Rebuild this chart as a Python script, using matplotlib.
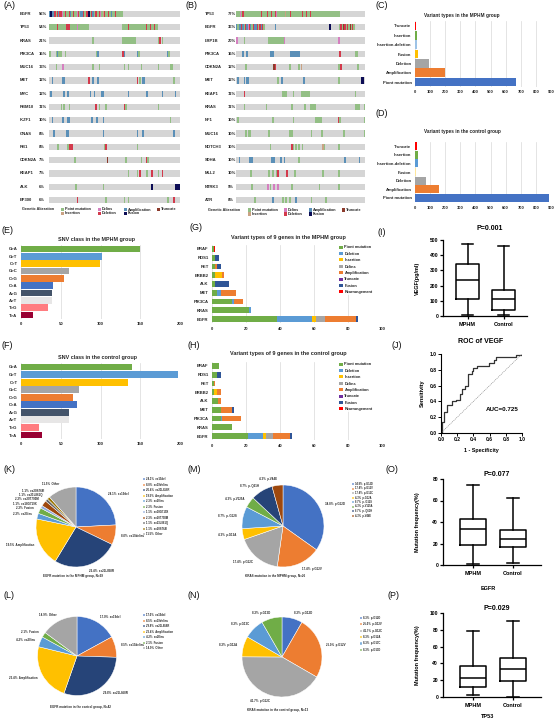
import matplotlib
matplotlib.use('Agg')
import matplotlib.pyplot as plt
from matplotlib.patches import Patch, Rectangle
from matplotlib.transforms import blended_transform_factory
import numpy as np

plt.rcParams['font.family'] = ['Liberation Sans', 'DejaVu Sans']
plt.rcParams['axes.linewidth'] = 0.8

W, H = 558, 722
fig = plt.figure(figsize=(W / 100, H / 100), dpi=100)
fig.patch.set_facecolor('white')


def ax_px(x0, y0, x1, y1):
    return fig.add_axes([x0 / W, 1 - y1 / H, (x1 - x0) / W, (y1 - y0) / H])


def ftext(x, y, s, **kw):
    return fig.text(x / W, 1 - y / H, s, **kw)


# ======================= DATA =======================
# --- oncoprints (A, B): "col-range + type" per gene, 100 sample columns
ALT_CODES = ['P', 'L', 'A', 'T', 'I', 'D', 'F']
ALT_NAMES = ['Point mutation', 'Delins', 'Amplification', 'Truncate', 'Insertion', 'Deletion', 'Fusion']
ALT_COLORS = {'P': '#93bf85', 'L': '#d57fc0', 'A': '#5a8fb7', 'T': '#8c3b2c',
              'I': '#c9a283', 'D': '#d33a4c', 'F': '#0c0c55'}
NCOL = 100

A_GENES = ['EGFR', 'TP53', 'KRAS', 'PIK3CA', 'MUC16', 'MET', 'MYC', 'RBM10', 'IKZF1',
           'GNAS', 'RB1', 'CDKN2A', 'KEAP1', 'ALK', 'EP300']
A_PCT = [56, 54, 21, 16, 13, 12, 12, 11, 10, 8, 8, 7, 7, 6, 6]
A_ALTS = [
    "0A 1F 2-3A 4D 5P 6D 7A 8-9D 10L 11P 12D 13-14P 15D 16A 17P 18D 19-20P 21L 22D 23P "
    "24-25A 26D 27P 28-29D 30F 31P 32D 33A 34P 35-36D 37P 38D 39L 40P 41I 42D 43-44P 45D "
    "46P 47A 48-49P 50D 51-55P",
    "0-29P 6D 13-15D 21L 56-82P 60D 74D 77D 80D",
    "33P 56-65P 83P 84D 86P",
    "0P 5-9P 6A 12P 36P 37A 56D 57A 67A 68P 90A 91P",
    "5P 10L 33P 38P 57P 60P 70P 83P 92-93P",
    "2A 10-11A 30D 33A 37A 67D 69P 71-72A 95P",
    "1A 11A 14A 31A 34A 40-41A 60A 74A 86A 96A",
    "9P 11P 15P 35D 38P 43P 57D 58P 83P",
    "2A 10A 14-15A 32A 36A 41A 92P",
    "3A 13-14A 41A 67A 71A 95A",
    "6P 14P 15-17D 42P 43D 67P",
    "19P 44T 58P 70P 74D 75P",
    "60P 67P 69D 74P 78D 83P 86D",
    "20P 41P 78F 96-99F",
    "21D 43P 57P 60P 90P 95D",
]

B_GENES = ['TP53', 'EGFR', 'LRP1B', 'PIK3CA', 'CDKN2A', 'MET', 'KEAP1', 'KRAS', 'NF1',
           'MUC16', 'NOTCH3', 'SDHA', 'MLL2', 'NTRK3', 'ATR']
B_PCT = [77, 36, 20, 16, 12, 12, 11, 11, 10, 10, 10, 10, 10, 9, 8]
B_ALTS = [
    "0-79P 3L 5D 19D 24D 27D 30D 31L 38I 42D 51D 54D 57D",
    "0A 1P 2-3A 4D 5A 6P 7D 8A 9L 10D 11A 12P 13D 14-15A 16D 17P 18D 19A 20D 21P 30A 72F "
    "80P 81D 82P 83T 84D 85P 86D 87P 88T 89P 90D 91P",
    "0L 6P 25-37P 37L 79L",
    "5A 8A 26-28A 42-48A 80D 92-93P",
    "7P 29T 30D 41P 48P 50I 79P 81D 94P",
    "1A 6A 8-9A 32P 35A 52A 79P 97-98F",
    "6D 36-38P 44P 50-56P 92P",
    "6P 23P 43P 53P 57-61P 92-95P 99P",
    "1P 28P 44P 61-65P 79D 80P 99P",
    "7P 9-10P 25P 41P 43P 58P 66P 83P 99P",
    "26P 43D 44P 46P 48P 51P 67I 68P 79P",
    "2A 10-12A 27A 29A 34A 37A 48P 84A 95A",
    "11P 25P 28P 31P 32D 39D 45P 67P 79P",
    "12P 24L 26P 29L 32L 43P 64P 79P",
    "14P 28A 36P 38P 41P 46A 58P 69P",
]

# --- C / D variant types
VT_TYPES = ['Truncate', 'Insertion', 'Insertion-deletion', 'Fusion', 'Deletion',
            'Amplification', 'Piont mutation']
C_VALUES = [5, 12, 12, 20, 90, 200, 670]
C_COLORS = ['#FF0000', '#70AD47', '#9DC3E6', '#FFC000', '#A5A5A5', '#ED7D31', '#4472C4']
D_VALUES = [12, 18, 20, 5, 70, 160, 890]
D_COLORS = ['#FF0000', '#70AD47', '#5B9BD5', '#FFE699', '#A5A5A5', '#ED7D31', '#4472C4']

# --- E / F SNV classes
SNV_CLASSES = ['G>A', 'G>T', 'C>T', 'G>C', 'C>G', 'C>A', 'A>G', 'A>T', 'T>G', 'T>A']
E_VALUES = [150, 102, 99, 61, 54, 40, 39, 39, 34, 15]
F_VALUES = [139, 198, 134, 73, 66, 70, 61, 61, 23, 26]
SNV_COLORS = ['#70AD47', '#5B9BD5', '#FFC000', '#A5A5A5', '#ED7D31', '#4472C4',
              '#44546A', '#E7E6E6', '#FF7C80', '#990033']

# --- G / H variant types of 9 genes (stacked)
G9_GENES = ['BRAF', 'ROS1', 'RET', 'ERBB2', 'ALK', 'MET', 'PIK3CA', 'KRAS', 'EGFR']
G9_TYPES = ['Piont mutation', 'Deletion', 'Insertion', 'Delins', 'Amplification',
            'Truncate', 'Fusion', 'Rearrangement']
G9_COLORS = ['#70AD47', '#5B9BD5', '#FFC000', '#A5A5A5', '#ED7D31', '#7030A0',
             '#2F5597', '#FF0000']
G_POINT = [1, 2, 2, 2, 2, 3, 12, 22, 38]
G_DELETION = [0, 0, 0, 0, 0, 2, 1, 1, 21]
G_INSERTION = [0, 0, 0, 4, 0, 0, 0, 0, 2]
G_DELINS = [0, 0, 0, 0, 0, 0, 0, 0, 5.5]
G_AMP = [0, 0, 1, 1, 0, 9, 5, 0, 18]
G_TRUNC = [0, 0, 0, 0, 0, 0, 0, 0, 0]
G_FUSION = [0, 2, 2, 0, 8, 0, 0, 0, 1.5]
G_REARR = [1, 0, 0, 0, 0, 0, 0, 0, 0]
H_POINT = [4, 3, 1, 1, 3.5, 5, 5, 12, 21]
H_DELETION = [0, 0, 0, 0, 0, 0, 1, 0, 9]
H_INSERTION = [0, 0, 0, 2, 0, 0, 0, 0, 2]
H_DELINS = [0, 0, 0, 0, 0, 0, 0, 0, 4]
H_AMP = [0, 0, 1, 2, 1.5, 7, 11, 0, 10]
H_TRUNC = [0, 0, 0, 0, 0, 0, 0, 0, 0]
H_FUSION = [0, 2, 0, 0, 0, 1, 0, 0, 1]
H_REARR = [0, 0, 0, 0, 0, 0, 0, 0, 0]

# --- box plots: [whislo, q1, median, q3, whishi]
BOX_GROUPS = ['MPHM', 'Control']
VEGF_MPHM = [9, 114, 236, 341, 471]
VEGF_CONTROL = [9, 37, 114, 174, 460]
EGFR_MPHM = [0.6, 19, 33.5, 42.5, 74]
EGFR_CONTROL = [1.5, 17, 24, 32.5, 62.5]
TP53_MPHM = [2, 12, 22.5, 37, 79]
TP53_CONTROL = [0.3, 18.7, 33.3, 46.4, 91]

# --- ROC of VEGF
ROC_FPR = [0.0, 0.01, 0.04, 0.08, 0.14, 0.19, 0.23, 0.26, 0.30, 0.33, 0.38, 0.40, 0.44,
           0.59, 0.66, 0.68, 0.92, 1.0]
ROC_TPR = [0.0, 0.14, 0.27, 0.35, 0.40, 0.42, 0.49, 0.56, 0.60, 0.75, 0.78, 0.82, 0.85,
           0.89, 0.93, 0.96, 0.99, 1.0]
ROC_AUC = 0.725

# --- pies
K_LABELS = ['ex19del', 'ex19delins', 'ex21L858R', 'Amplification', 'ex20ins', 'Fusion',
            'ex18G719X', 'ex20T790M', 'ex21L861Q', 'ex20S768I', 'Other']
K_PCTS = [24.1, 8.0, 26.4, 19.5, 2.3, 2.3, 1.1, 2.3, 1.1, 1.1, 11.5]
K_COLORS = ['#4472C4', '#ED7D31', '#264478', '#FFC000', '#5B9BD5', '#70AD47',
            '#8FAADC', '#9E480E', '#636363', '#997300', '#A5A5A5']
L_LABELS = ['ex19del', 'ex19delins', 'ex21L858R', 'Amplification', 'ex20ins', 'Fusion', 'Other']
L_PCTS = [17.0, 8.5, 29.8, 23.4, 4.2, 2.1, 14.9]
L_COLORS = ['#4472C4', '#ED7D31', '#264478', '#FFC000', '#5B9BD5', '#70AD47', '#A5A5A5']
M_LABELS = ['p.G12D', 'p.G12V', 'p.G12C', 'p.G12A', 'p. G12S', 'p.V125A', 'p. Q61H', 'p.V44E']
M_PCTS = [34.8, 17.4, 17.4, 4.3, 8.7, 4.3, 8.7, 4.3]
M_COLORS = ['#4472C4', '#ED7D31', '#A5A5A5', '#FFC000', '#5B9BD5', '#70AD47', '#264478', '#9E480E']
N_LABELS = ['p.G12D', 'p.G12V', 'p.G12C', 'p.G12A', 'p.G13C', 'p.G13D']
N_PCTS = [8.3, 25.0, 41.7, 8.3, 8.3, 8.3]
N_COLORS = ['#4472C4', '#ED7D31', '#A5A5A5', '#FFC000', '#5B9BD5', '#70AD47']

TXT = '#262626'


# ======================= HELPERS =======================
def parse_alts(spec):
    cells = {}
    for tok in spec.split():
        rng, t = tok[:-1], tok[-1]
        if '-' in rng:
            a, b = map(int, rng.split('-'))
        else:
            a = b = int(rng)
        for c in range(a, b + 1):
            cells[c] = t
    return cells


def oncoprint(x0, x1, ytop, ybot, genes, pcts, alts, name_x, pct_x, leg):
    n = len(genes)
    step = (ybot - ytop) / (n - 1)
    ax = ax_px(x0, ytop - step / 2, x1, ybot + step / 2)
    ax.set_xlim(0, NCOL)
    ax.set_ylim(n - 0.5, -0.5)
    ax.axis('off')
    rows = np.arange(n)
    hh = 0.47
    ax.barh(rows, NCOL, left=0, height=hh, color='#d5d5d5', linewidth=0)
    for i, spec in enumerate(alts):
        cells = parse_alts(spec)
        cols = sorted(cells)
        ax.barh([i] * len(cols), 1.3, left=cols, height=hh,
                color=[ALT_COLORS[cells[c]] for c in cols], linewidth=0)
    tr = blended_transform_factory(fig.transFigure, ax.transData)
    for i, (g, p) in enumerate(zip(genes, pcts)):
        ax.text(name_x / W, i, g, transform=tr, fontsize=3, fontweight='bold',
                ha='left', va='center', color=TXT)
        ax.text(pct_x / W, i, f'{p}%', transform=tr, fontsize=3, fontweight='bold',
                ha='left', va='center', color=TXT)
    # legend
    lx, ly1, ly2, bx = leg
    ftext(lx, ly1, 'Genetic Alteration', fontsize=2.7, fontweight='bold', ha='left',
          va='center', color=TXT)
    pos = {'P': (bx[0], ly1), 'L': (bx[1], ly1), 'A': (bx[2], ly1), 'T': (bx[3], ly1),
           'I': (bx[0], ly2), 'D': (bx[1], ly2), 'F': (bx[2], ly2)}
    for code, name in zip(ALT_CODES, ALT_NAMES):
        px, py = pos[code]
        fig.patches.append(Rectangle((px / W, 1 - (py + 1.6) / H), 3.2 / W, 3.2 / H,
                                     transform=fig.transFigure, color=ALT_COLORS[code],
                                     linewidth=0))
        ftext(px + 4.2, py, name, fontsize=2.7, fontweight='bold', ha='left', va='center',
              color=TXT)
    return ax


def excel_style(ax, xmax, xstep, fs=3):
    ax.set_xlim(0, xmax)
    ax.set_xticks(np.arange(0, xmax + 0.1, xstep))
    for s in ax.spines.values():
        s.set_visible(False)
    ax.grid(axis='x', color='#d9d9d9', lw=0.5, zorder=0)
    ax.set_axisbelow(True)
    ax.tick_params(length=0, labelsize=fs, pad=2.5, colors=TXT)
    for lab in ax.get_xticklabels() + ax.get_yticklabels():
        lab.set_fontweight('bold')


def simple_barh(box, cats, vals, colors, xmax, xstep, height, title, title_xy, fs=3, tfs=3.4):
    ax = ax_px(*box)
    y = np.arange(len(cats))
    ax.barh(y, vals, color=colors, height=height, zorder=2)
    ax.set_ylim(len(cats) - 0.5, -0.5)
    ax.set_yticks(y)
    ax.set_yticklabels(cats)
    excel_style(ax, xmax, xstep, fs)
    ftext(title_xy[0], title_xy[1], title, fontsize=tfs, fontweight='bold', ha='center',
          va='center', color=TXT)
    return ax


def stacked_barh(box, genes, series, colors, names, title, title_xy, leg_xy):
    ax = ax_px(*box)
    y = np.arange(len(genes))
    left = np.zeros(len(genes))
    handles = []
    for vals, c, nm in zip(series, colors, names):
        vals = np.asarray(vals, dtype=float)
        ax.barh(y, vals, left=left, color=c, height=0.68, zorder=2)
        left += vals
        handles.append(Patch(facecolor=c, edgecolor='none', label=nm))
    ax.set_ylim(len(genes) - 0.5, -0.5)
    ax.set_yticks(y)
    ax.set_yticklabels(genes)
    excel_style(ax, 100, 20)
    ftext(title_xy[0], title_xy[1], title, fontsize=4, fontweight='bold', ha='center',
          va='center', color=TXT)
    leg = fig.legend(handles=handles, loc='upper left',
                     bbox_to_anchor=(leg_xy[0] / W, 1 - leg_xy[1] / H),
                     fontsize=2.8, frameon=True, facecolor='white', edgecolor='none',
                     handlelength=0.8, handleheight=0.8, handletextpad=0.5,
                     labelspacing=0.62, borderpad=0.1, borderaxespad=0)
    for t in leg.get_texts():
        t.set_fontweight('bold')
        t.set_color(TXT)
    return ax


def box_panel(box, groups, stats, ylim, yticks, xlim, title, title_y, ylabel, ylabel_x,
              below=None):
    ax = ax_px(*box)
    bstats = [dict(whislo=s[0], q1=s[1], med=s[2], q3=s[3], whishi=s[4], label=g)
              for g, s in zip(groups, stats)]
    kw = dict(color='black', linewidth=1.1)
    ax.bxp(bstats, positions=[1, 2], widths=0.66, showfliers=False, capwidths=0.3,
           boxprops=kw, whiskerprops=kw, capprops=kw, medianprops=kw)
    ax.set_ylim(*ylim)
    ax.set_xlim(*xlim)
    ax.set_yticks(yticks)
    ax.spines['top'].set_visible(False)
    ax.spines['right'].set_visible(False)
    ax.spines['left'].set_linewidth(0.9)
    ax.spines['bottom'].set_linewidth(0.9)
    ax.tick_params(axis='y', length=2.5, width=0.9, labelsize=3.6, pad=1)
    ax.tick_params(axis='x', length=2.5, width=0.9, labelsize=4, pad=1.5)
    for lab in ax.get_xticklabels() + ax.get_yticklabels():
        lab.set_fontweight('bold')
    cx = (box[0] + box[2]) / 2 + 8
    ftext(cx - 3, title_y, title, fontsize=5, fontweight='bold', ha='center', va='center')
    ftext(ylabel_x, (box[1] + box[3]) / 2, ylabel, fontsize=4, fontweight='bold',
          rotation=90, ha='center', va='center')
    if below:
        ftext(below[0], below[1], below[2], fontsize=4, fontweight='bold', ha='center',
              va='center')
    return ax


def spread(texts, gap):
    for side in (1, -1):
        tt = [t for t in texts if np.sign(t.get_position()[0]) == side]
        tt.sort(key=lambda t: t.get_position()[1])
        for a, b in zip(tt[:-1], tt[1:]):
            ya = a.get_position()[1]
            xb, yb = b.get_position()
            if yb - ya < gap:
                b.set_position((xb, ya + gap))


def pie_panel(cx, cy, r, labels, pcts, colors, title, title_xy, leg_xy, leg_fs,
              leg_space, lab_dist=1.15):
    ax = ax_px(cx - r, cy - r, cx + r, cy + r)
    full = [f'{p:.1f}%  {l}' for p, l in zip(pcts, labels)]
    wedges, texts = ax.pie(pcts, colors=colors, startangle=90, counterclock=False,
                           labels=full, labeldistance=lab_dist,
                           wedgeprops=dict(edgecolor='white', linewidth=0.35),
                           textprops=dict(fontsize=2.1, fontweight='bold', color=TXT))
    spread(texts, 0.11)
    ax.set_xlim(-1.0, 1.0)
    ax.set_ylim(-1.0, 1.0)
    ftext(title_xy[0], title_xy[1], title, fontsize=2.2, fontweight='bold', ha='center',
          va='center', color=TXT)
    leg = ax.legend(wedges, full, loc='upper left',
                    bbox_to_anchor=(leg_xy[0] / W, 1 - leg_xy[1] / H),
                    bbox_transform=fig.transFigure, fontsize=leg_fs, frameon=False,
                    handlelength=0.8, handleheight=0.8, handletextpad=0.4,
                    labelspacing=leg_space, borderpad=0, borderaxespad=0)
    for t in leg.get_texts():
        t.set_fontweight('bold')
        t.set_color(TXT)
    return ax


# ======================= PANELS =======================
# A, B oncoprints
oncoprint(49, 180, 14, 200, A_GENES, A_PCT, A_ALTS, 20, 39,
          (22, 209.5, 213.5, [61, 98, 123.5, 157]))
oncoprint(236, 365, 14, 200, B_GENES, B_PCT, B_ALTS, 205, 228,
          (208, 210, 214, [248, 284, 309, 342]))

# C, D
simple_barh((415, 21.3, 551, 86.7), VT_TYPES, C_VALUES, C_COLORS, 900, 100, 0.9,
            'Variant types in the MPHM group', (462, 15))
simple_barh((415, 141.7, 551, 202.3), VT_TYPES, D_VALUES, D_COLORS, 900, 100, 0.9,
            'Variant types in the control group', (462, 132))

# E, F
simple_barh((21, 245.3, 180, 318.7), SNV_CLASSES, E_VALUES, SNV_COLORS, 200, 50, 0.9,
            'SNV class in the MPHM group', (97, 240), fs=3.1, tfs=3.9)
simple_barh((21, 363.2, 180, 438.8), SNV_CLASSES, F_VALUES, SNV_COLORS, 200, 50, 0.9,
            'SNV class in the control group', (97, 358), fs=3.1, tfs=3.9)

# G, H
stacked_barh((212, 244.6, 382, 323.4), G9_GENES,
             [G_POINT, G_DELETION, G_INSERTION, G_DELINS, G_AMP, G_TRUNC, G_FUSION, G_REARR],
             G9_COLORS, G9_TYPES, 'Variant types of 9 genes in the MPHM group', (288, 237),
             (339, 245))
stacked_barh((212, 361.6, 382, 440.4), G9_GENES,
             [H_POINT, H_DELETION, H_INSERTION, H_DELINS, H_AMP, H_TRUNC, H_FUSION, H_REARR],
             G9_COLORS, G9_TYPES, 'Variant types of 9 genes in the control group', (288, 354),
             (339, 362))

# I box VEGF
box_panel((443, 240, 527, 316), BOX_GROUPS, [VEGF_MPHM, VEGF_CONTROL], (0, 500),
          [0, 100, 200, 300, 400, 500], (0.32, 2.65), 'P=0.001', 228, 'VEGF(pg/ml)', 417)

# J ROC
axj = ax_px(441, 354, 522, 433)
axj.step(ROC_FPR, ROC_TPR, where='post', color='#333333', lw=0.9)
axj.plot([0, 1], [0, 1], ls=(0, (2, 1.5)), color='#777777', lw=0.4)
axj.set_xlim(0, 1.0)
axj.set_ylim(0, 1.0)
axj.set_xticks(np.arange(0, 1.01, 0.2))
axj.set_yticks(np.arange(0, 1.01, 0.2))
axj.xaxis.set_major_formatter(matplotlib.ticker.FormatStrFormatter('%.1f'))
axj.yaxis.set_major_formatter(matplotlib.ticker.FormatStrFormatter('%.1f'))
axj.spines['top'].set_visible(False)
axj.spines['right'].set_visible(False)
axj.tick_params(length=2, width=0.7, labelsize=3.6, pad=1)
for lab in axj.get_xticklabels() + axj.get_yticklabels():
    lab.set_fontweight('bold')
axj.text(0.55, 0.3, f'AUC={ROC_AUC}', transform=axj.transAxes, fontsize=4.5,
         fontweight='bold', ha='left', va='center')
ftext(481, 342, 'ROC of VEGF', fontsize=5, fontweight='bold', ha='center', va='center')
ftext(481, 450, '1 - Specificity', fontsize=3.9, fontweight='bold', ha='center', va='center')
ftext(422, 393, 'Sensitivity', fontsize=4, fontweight='bold', rotation=90, ha='center',
      va='center')

# O, P boxes
box_panel((443, 479, 541, 565), BOX_GROUPS, [EGFR_MPHM, EGFR_CONTROL], (0, 80),
          [0, 20, 40, 60, 80], (0.25, 2.7), 'P=0.077', 475, 'Mutation frequency(%)', 418,
          below=(488, 588, 'EGFR'))
box_panel((443, 613, 541, 697), BOX_GROUPS, [TP53_MPHM, TP53_CONTROL], (0, 100),
          [0, 20, 40, 60, 80, 100], (0.25, 2.7), 'P=0.029', 608, 'Mutation frequency(%)',
          418, below=(488, 717, 'TP53'))

# K, L, M, N pies
pie_panel(76, 527, 40, K_LABELS, K_PCTS, K_COLORS, 'EGFR mutation in the MPHM group, N=69',
          (73, 576), (143, 477), 2.0, 0.55)
pie_panel(77, 656, 39.5, L_LABELS, L_PCTS, L_COLORS,
          'EGFR mutation in the control group, N=42', (80, 707), (143, 613), 2.0, 0.55)
pie_panel(283, 526, 41, M_LABELS, M_PCTS, M_COLORS, 'KRAS mutation in the MPHM group, N=26',
          (275, 576), (352, 482), 1.8, 0.2)
pie_panel(282, 657, 40, N_LABELS, N_PCTS, N_COLORS, 'KRAS mutation in the control group, N=13',
          (278, 710), (360, 616), 2.0, 0.85)

# panel letters
for lab, x, y in [('(A)', 3, 6), ('(B)', 185, 6), ('(C)', 376, 6), ('(D)', 376, 113),
                  ('(E)', 2, 230), ('(F)', 2, 345), ('(G)', 190, 228), ('(H)', 188, 345),
                  ('(I)', 378, 232), ('(J)', 391, 345), ('(K)', 3, 469), ('(M)', 187, 469),
                  ('(O)', 385, 469), ('(L)', 3, 595), ('(N)', 187, 595), ('(P)', 387, 595)]:
    ftext(x, y, lab, fontsize=6.5, ha='left', va='center', color='#111111')

fig.savefig('out.png', dpi=100, facecolor='white')
